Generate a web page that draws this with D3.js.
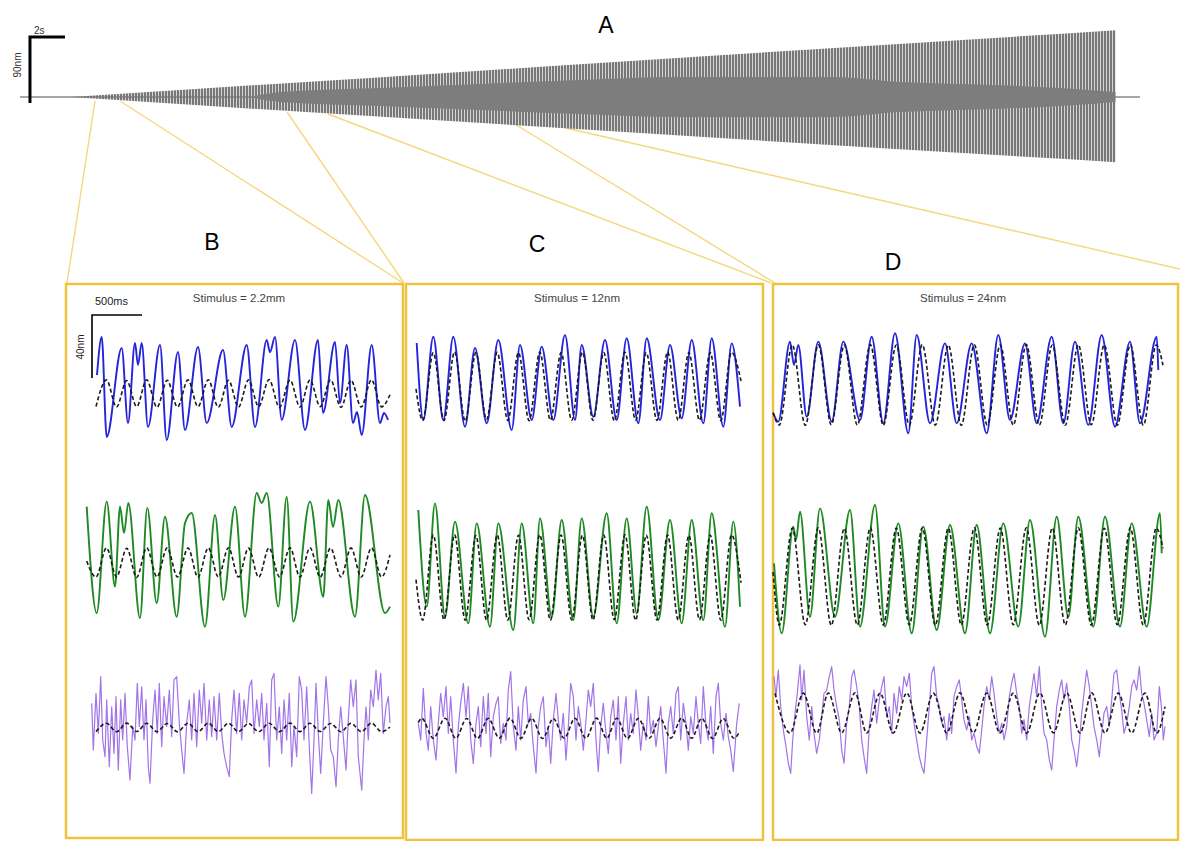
<!DOCTYPE html>
<html><head><meta charset="utf-8">
<script src="https://cdn.jsdelivr.net/npm/d3@7"></script>
<style>body{margin:0;background:#fff}svg{display:block}</style>
</head><body><svg id="c" width="1180" height="841"></svg>
<script>
// ---------- Panel A: envelope of the chirp stimulus (time in s, displacement in nm)
const envTime  = [2.9, 10, 20, 30, 40, 50, 60, 62.6];
const envUpper = [0, 11, 26, 41.5, 57, 72, 87, 91];
const envLower = [0, -11, -26, -41, -56, -71, -85, -89];
const bandTime = [13.1, 14.9, 20.6, 26.3, 32, 37.7, 46.3, 50.3, 56, 59.4, 62.6];
const bandHalf = [0, 6.8, 12.3, 17.7, 23.2, 27.3, 27.3, 20.5, 16, 12.3, 6.8];

// ---------- Panel texts
const panelLetters = ["B", "C", "D"];
const stimulusLabels = ["Stimulus = 2.2mm", "Stimulus = 12nm", "Stimulus = 24nm"];

// ---------- Panel B traces  [time ms, displacement nm]
const bBlue = [[110,9.5],[157,33.7],[207,-29.8],[357,26.7],[420,-21],[490,29.8],[520,15.9],[557,29.8],[620,-23.5],[740,28.6],[807,-31.8],[920,24.1],[990,-25.4],[1120,27.3],[1207,-21],[1370,25.4],[1457,-23.5],[1607,28.6],[1690,-23.5],[1807,31.8],[1840,24],[1890,33.7],[1957,-19],[2090,31.8],[2190,-25.4],[2320,31.8],[2370,-14.6],[2490,30.5],[2540,-8.3],[2607,28.6],[2670,-21],[2710,-14],[2757,-28.6],[2857,28.6],[2940,-21],[2980,-14.6],[3020,-19]];
const bGreen = [[7,32.6],[107,-35],[207,35.8],[290,-18.2],[340,32.6],[380,15.9],[423,34.9],[540,-38.1],[613,31.8],[707,-28.6],[790,26.2],[907,-37.3],[990,22.2],[1057,28.6],[1190,-43.6],[1290,27.3],[1373,-26.7],[1490,32.6],[1590,-37.3],[1707,41.3],[1757,34.9],[1807,41.3],[1923,-30.9],[2007,38.9],[2073,-40.4],[2240,35.8],[2373,-24.6],[2423,36.8],[2470,19.7],[2523,36.8],[2690,-37.3],[2790,40],[2990,-35],[3040,-30.9]];
const bPurple = [[57,15.7],[73,-14],[100,22],[123,-3.4],[147,32.6],[167,-7.6],[190,-18.2],[207,17.8],[233,-24.6],[257,13.5],[280,-16.1],[300,19.9],[323,-26.7],[347,17.8],[367,-7.6],[390,22],[413,-11.9],[440,-33],[467,1],[490,-7.6],[513,28.4],[533,1],[557,26.2],[580,-7.6],[600,17.8],[623,-24.6],[640,-35.1],[667,5.3],[690,24.1],[713,-3.4],[733,28.4],[757,-11.9],[780,19.9],[807,1],[833,24.1],[857,-5.5],[880,30.5],[907,32.6],[933,3.2],[957,-14],[980,-28.8],[1007,3.2],[1033,17.8],[1057,-7.6],[1080,22],[1107,-11.9],[1133,24.1],[1157,3.2],[1180,28.4],[1207,-7.6],[1233,17.8],[1257,-5.5],[1280,19.9],[1307,-7.6],[1333,22],[1357,-3.4],[1380,-16.1],[1407,-24.6],[1433,-30.9],[1457,5.3],[1480,24.1],[1507,-3.4],[1533,22],[1557,-7.6],[1580,17.8],[1607,3.2],[1633,26.2],[1657,30.5],[1680,-3.4],[1707,17.8],[1733,1],[1757,22],[1780,-7.6],[1807,15.7],[1833,-24.6],[1857,30.5],[1880,34.7],[1907,-7.6],[1933,13.5],[1957,-16.1],[1980,17.8],[2007,-7.6],[2033,22],[2057,-24.6],[2080,1],[2107,-18.2],[2133,32.6],[2157,24.1],[2180,-7.6],[2207,26.2],[2233,-11.9],[2257,-41.5],[2280,-7.6],[2300,28.4],[2323,-3.4],[2347,-28.8],[2373,3.2],[2400,32.6],[2423,13.5],[2447,-14],[2473,-18.2],[2500,-37.3],[2523,-7.6],[2547,13.5],[2573,-5.5],[2600,-26.7],[2623,5.3],[2647,30.5],[2673,13.5],[2700,30.5],[2723,-18.2],[2757,-39.4],[2780,-7.6],[2800,13.5],[2823,-7.6],[2847,24.1],[2873,13.5],[2900,36.8],[2923,17.8],[2947,34.7],[2973,-3.4],[3000,13.5],[3023,19.9],[3040,3.2]];
const bModelT = [7,100,205,305,407,507,607,710,812,915,1020,1120,1223,1323,1425,1525,1625,1727,1830,1935,2040,2140,2240,2342,2445,2550,2650,2752,2855,2955,3040];
const bBlueModel = [null,-10.5,6.4,-10.8,6.0,-10.5,6.5,-11.0,6.2,-10.8,6.4,-10.6,6.5,-11.0,6.2,-10.8,6.4,-10.5,6.6,-11.0,6.3,-10.8,6.4,-10.6,6.5,-11.0,6.2,-10.8,6.4,-10.7,-3];
const bGreenModel = [-2,-12.1,6.4,-12,6.2,-12.3,6.5,-12,6.4,-12.1,6.3,-12.2,6.4,-12,6.5,-12.1,6.3,-12.2,6.4,-12,6.4,-12.1,6.5,-12.2,6.3,-12,6.4,-12.1,6.4,-12,2];
const bPurpleModel = [null,-2.3,3.0,-2.4,3.1,-2.2,3.0,-2.3,2.9,-2.4,3.0,-2.3,3.1,-2.2,3.0,-2.3,2.9,-2.4,3.0,-2.3,3.1,-2.3,3.0,-2.2,2.9,-2.4,3.0,-2.3,3.1,-2.3,0.5];

// ---------- Panel C traces
const cBlue = [[7,24.1],[73,-24.8],[173,28.1],[273,-24.8],[373,28.1],[490,-29],[590,21],[707,-26.9],[823,26],[957,-31.1],[1040,22.9],[1157,-24.8],[1257,21.8],[1373,-24.8],[1490,29.2],[1590,-24.8],[1657,22.9],[1773,-22.7],[1890,26],[2007,-24.8],[2107,27.1],[2223,-26.9],[2307,27.1],[2440,-24.8],[2540,22.9],[2657,-23.7],[2757,26],[2873,-26.9],[2957,27.1],[3073,-29],[3157,23.9],[3240,-16.3]];
const cGreen = [[23,36.2],[107,-25.2],[190,40.4],[290,-31.6],[390,28.8],[523,-35.8],[607,27.7],[740,-37.9],[823,27.7],[973,-40],[1057,27.7],[1173,-35.8],[1240,30.9],[1357,-31.6],[1457,29.8],[1573,-33.7],[1657,30.9],[1773,-31.6],[1907,34.1],[2007,-35.8],[2107,30.9],[2207,-29.4],[2307,38.3],[2423,-33.7],[2540,29.8],[2657,-35.8],[2757,29.8],[2873,-33.7],[2957,34.1],[3090,-37.9],[3173,28.8],[3240,-25.2]];
const cPurple = [[23,3.6],[47,-7],[73,25.8],[100,-2.8],[123,-13.4],[147,14.2],[173,-7],[200,-19.7],[223,3.6],[247,22.6],[273,7.8],[300,26.9],[323,-2.8],[347,20.5],[373,-7],[400,-28],[423,1.5],[447,16.3],[473,29],[500,7.8],[523,26.9],[547,-7],[573,-21.8],[600,3.6],[623,14.2],[647,-11.2],[673,20.5],[700,-2.8],[723,22.6],[747,-17.6],[773,7.8],[800,16.3],[823,20.5],[847,-9.1],[873,3.6],[900,-7],[923,24.8],[947,36.4],[973,1.5],[1000,-13.4],[1023,14.2],[1047,-7],[1073,18.4],[1100,26.9],[1123,3.6],[1147,9.9],[1173,-11.2],[1200,-28],[1223,1.5],[1247,14.2],[1273,20.5],[1300,-11.2],[1323,1.5],[1347,-21.8],[1373,5.7],[1400,22.6],[1423,5.7],[1447,-7],[1473,9.9],[1500,-19.7],[1523,1.5],[1547,29],[1573,20.5],[1600,-7],[1623,14.2],[1647,3.6],[1673,-13.4],[1700,5.7],[1723,24.8],[1747,14.2],[1773,29],[1800,-7],[1823,-27],[1847,1.5],[1873,16.3],[1900,-2.8],[1923,-15.5],[1947,7.8],[1973,18.4],[2000,-7],[2023,20.5],[2047,-21.8],[2073,3.6],[2100,20.5],[2123,-7],[2147,9.9],[2173,-2.8],[2200,24.8],[2223,7.8],[2247,-13.4],[2273,3.6],[2300,-7],[2323,20.5],[2347,-2.8],[2373,5.7],[2400,-11.2],[2423,1.5],[2447,14.2],[2473,-7],[2500,-28],[2523,3.6],[2547,14.2],[2573,-2.8],[2600,22.6],[2623,26.9],[2647,-7],[2673,16.3],[2700,3.6],[2723,-13.4],[2747,7.8],[2773,-2.8],[2800,20.5],[2823,3.6],[2847,-9.1],[2873,26.9],[2900,1.5],[2923,-7],[2947,14.2],[2973,-15.5],[3000,20.5],[3023,29],[3047,3.6],[3073,-7],[3100,9.9],[3123,-4.9],[3147,-13.4],[3173,-27],[3207,3.6],[3233,16.3]];
const cModelT = [0,67,173,280,386,492,599,705,812,918,1025,1131,1238,1344,1451,1557,1664,1770,1877,1983,2090,2196,2303,2409,2516,2622,2729,2835,2942,3048,3155,3250];
const cBlueModel = [-5,-25,18,-25,18.5,-25.5,18,-24.5,18.2,-25,18,-25.2,18.4,-24.8,18,-25,18.3,-25,18,-25.3,18.2,-24.8,18,-25,18.4,-25,18.1,-24.9,18,-25.2,18.2,0];
const cGreenModel = [-8,-33.7,20.3,-33.5,20.5,-33.8,20,-33.6,20.3,-33.7,20.2,-33.5,20.4,-33.8,20.3,-33.6,20.1,-33.7,20.3,-33.5,20.4,-33.8,20.2,-33.6,20.3,-33.7,20.1,-33.5,20.3,-33.8,20.4,-10];
const cPurpleModelT = [23,57,173,290,398,507,615,723,832,940,1048,1157,1265,1373,1482,1590,1698,1807,1907,2007,2115,2223,2332,2440,2548,2657,2757,2857,2965,3073,3180,3233];
const cPurpleModel = [4,6.8,-5.9,6.8,-5.9,6.7,-6,6.8,-5.8,6.9,-5.9,6.8,-6,6.7,-5.9,6.8,-5.8,6.9,-5.9,6.8,-6,6.7,-5.9,6.8,-5.8,6.9,-5.9,6.8,-6,6.7,-5.9,-2];

// ---------- Panel D traces
const dBlue = [[3,-20.5],[53,-25.8],[170,25],[210,10.2],[253,22.9],[337,-22.7],[453,25],[587,-25.8],[703,25],[870,-24.8],[987,28.1],[1103,-26.9],[1220,30.3],[1353,-33.2],[1437,29.2],[1570,-26.9],[1720,23.9],[1837,-26.9],[1987,23.9],[2137,-33.2],[2253,29.2],[2370,-24.8],[2520,23.9],[2637,-26.9],[2787,28.1],[2903,-26.9],[3020,25],[3153,-27.9],[3287,29.2],[3420,-29],[3570,25],[3670,-26.9],[3837,28.1],[3853,7]];
const dGreen = [[10,5.5],[87,-38.9],[203,28.8],[230,20.3],[270,38.3],[370,-28.4],[470,40.4],[620,-28.4],[770,39.4],[870,-34.7],[1020,42.5],[1120,-34.7],[1253,30.9],[1387,-38.9],[1503,28.8],[1637,-36.8],[1770,29.8],[1920,-38.9],[2037,29.8],[2170,-38.9],[2303,30.9],[2453,-34.7],[2570,33],[2720,-41.1],[2837,35.1],[2953,-28.4],[3053,35.1],[3203,-34.7],[3320,35.1],[3470,-34.7],[3587,30.9],[3737,-34.7],[3870,37.3],[3887,11.9]];
const dPurple = [[10,23.1],[30,10.4],[53,27.3],[77,4.1],[103,-10.8],[130,-21.3],[153,-31.9],[177,-38.3],[197,-17.1],[220,-0.2],[243,12.5],[270,30.5],[287,8.3],[310,27.3],[337,-2.3],[363,-17.1],[387,4.1],[410,-12.9],[437,-25.6],[463,-17.1],[487,-2.3],[510,12.5],[537,14.6],[563,23.1],[587,29.5],[610,14.6],[637,4.1],[663,-4.4],[687,-23.5],[710,-31.9],[737,-6.5],[763,4.1],[787,23.1],[810,27.3],[837,16.8],[863,4.1],[887,-17.1],[910,-27.7],[937,-38.3],[963,-8.6],[987,4.1],[1010,14.6],[1037,-6.5],[1063,8.3],[1087,16.8],[1110,23.1],[1137,-2.3],[1163,4.1],[1187,-12.9],[1210,12.5],[1237,-0.2],[1263,16.8],[1287,8.3],[1310,23.1],[1337,16.8],[1363,25.2],[1387,4.1],[1410,-6.5],[1437,-17.1],[1463,-27.7],[1487,-34],[1510,-38.3],[1537,-17.1],[1563,4.1],[1587,25.2],[1610,29.5],[1637,10.4],[1663,4.1],[1687,-6.5],[1710,-2.3],[1737,-17.1],[1763,-0.2],[1787,-12.9],[1810,10.4],[1837,16.8],[1863,21],[1887,8.3],[1910,-4.4],[1937,-10.8],[1963,-2.3],[1987,-17.1],[2010,-12.9],[2037,-21.3],[2063,-25.6],[2087,-10.8],[2110,4.1],[2137,16.8],[2163,8.3],[2187,23.1],[2210,12.5],[2237,-2.3],[2263,-12.9],[2287,-6.5],[2310,-17.1],[2337,-8.6],[2363,10.4],[2387,18.9],[2410,25.2],[2437,12.5],[2463,4.1],[2487,-12.9],[2510,-4.4],[2537,-17.1],[2563,4.1],[2587,14.6],[2610,25.2],[2637,10.4],[2663,29.5],[2687,4.1],[2710,-12.9],[2737,-17.1],[2763,-29.8],[2787,-36.2],[2810,-17.1],[2837,4.1],[2863,14.6],[2887,21],[2910,8.3],[2937,18.9],[2963,4.1],[2987,-17.1],[3010,-23.5],[3037,-34],[3063,-19.2],[3087,-0.2],[3110,12.5],[3137,27.3],[3163,16.8],[3187,4.1],[3210,-8.6],[3237,-17.1],[3263,-27.7],[3287,-12.9],[3310,-0.2],[3337,4.1],[3363,-8.6],[3387,8.3],[3410,25.2],[3437,27.3],[3463,12.5],[3487,2],[3510,-12.9],[3537,-6.5],[3563,4.1],[3587,16.8],[3610,21],[3637,14.6],[3663,29.5],[3687,12.5],[3710,6.2],[3737,-4.4],[3763,-15],[3787,-0.2],[3810,-17.1],[3837,-12.9],[3863,16.8],[3887,2],[3903,-17.1],[3920,-8.6]];
const dModelT = [0,63,193,323,453,583,713,843,973,1103,1233,1363,1493,1623,1753,1883,2013,2143,2273,2403,2533,2663,2793,2923,3053,3183,3313,3443,3573,3703,3833,3900];
const dBlueModel = [-20,-28,22.9,-28.2,23,-27.8,22.8,-28,23.1,-28.1,22.9,-27.9,23,-28,22.8,-28.2,23,-27.9,22.9,-28,23.1,-28,22.9,-28.1,23,-27.8,22.9,-28,23,-28.1,22.9,10];
const dGreenModel = [0,-33.7,27.9,-33.5,28,-33.8,27.7,-33.6,28,-33.7,27.9,-33.5,28.1,-33.8,27.8,-33.6,28,-33.7,27.9,-33.5,28,-33.8,27.9,-33.6,28,-33.7,27.8,-33.5,28,-33.8,27.9,15];
const dPurpleModelT = [20,170,303,437,553,687,820,937,1070,1203,1337,1470,1603,1737,1870,2003,2137,2270,2403,2537,2670,2803,2937,3070,3187,3320,3453,3587,3720,3837,3920];
const dPurpleModel = [12.5,-12.7,12.6,-12.8,12.7,-12.6,12.8,-12.7,12.6,-12.7,12.7,-12.8,12.6,-12.7,12.8,-12.6,12.7,-12.7,12.6,-12.8,12.7,-12.6,12.7,-12.7,12.8,-12.7,12.6,-12.7,12.7,-12.8,4];

// ================= drawing =================
const svg = d3.select("#c");
const FONT = "'Liberation Sans', Arial, sans-serif";
const YELLOW = "#f5d77c", BORDER = "#f1c23e";
const BLUE = "#2424dc", GREEN = "#1f8a24", PURPLE = "#a274e8";
const zip = (t, v) => t.map((d, i) => [d, v[i]]);

// --- Panel A
const xA = d3.scaleLinear().domain([0, 64]).range([20, 1140]);
const yA = d3.scaleLinear().domain([-90, 90]).range([163, 31]);
const defs = svg.append("defs");
defs.append("pattern").attr("id", "stripes").attr("patternUnits", "userSpaceOnUse")
  .attr("width", 3).attr("height", 6)
  .append("rect").attr("width", 2.3).attr("height", 6).attr("fill", "#777777");

// connector lines (drawn first, behind)
const connectors = [
  [[95, 101], [67, 283]], [[120, 101], [403, 283]],
  [[287, 112], [404, 283]], [[328, 114], [771, 283]],
  [[513, 123], [775, 283]], [[566, 128], [1180, 269]]
];
svg.append("g").selectAll("line").data(connectors).join("line")
  .attr("x1", d => d[0][0]).attr("y1", d => d[0][1])
  .attr("x2", d => d[1][0]).attr("y2", d => d[1][1])
  .attr("stroke", YELLOW).attr("stroke-width", 1.4);

svg.append("line").attr("x1", xA(0)).attr("x2", xA(64)).attr("y1", yA(0)).attr("y2", yA(0))
  .attr("stroke", "#8a8a8a").attr("stroke-width", 1.5);
const envData = envTime.map((t, i) => ({t, hi: envUpper[i], lo: envLower[i]}));
svg.append("path").datum(envData)
  .attr("d", d3.area().x(d => xA(d.t)).y0(d => yA(d.lo)).y1(d => yA(d.hi)))
  .attr("fill", "url(#stripes)");
const bandData = bandTime.map((t, i) => ({t, h: bandHalf[i]}));
svg.append("path").datum(bandData)
  .attr("d", d3.area().curve(d3.curveMonotoneX).x(d => xA(d.t)).y0(d => yA(-d.h)).y1(d => yA(d.h)))
  .attr("fill", "#7d7d7d");

// scale bar A
svg.append("path").attr("d", `M${xA(0.57)},${yA(-8.2)}V${yA(81.8)}H${xA(2.57)}`)
  .attr("fill", "none").attr("stroke", "#000").attr("stroke-width", 3);
svg.append("text").attr("x", 34).attr("y", 34).text("2s")
  .attr("font-family", FONT).attr("font-size", 10).attr("fill", "#333");
svg.append("text").attr("transform", "translate(21,65) rotate(-90)").attr("text-anchor", "middle")
  .text("90nm").attr("font-family", FONT).attr("font-size", 10).attr("fill", "#333");
svg.append("text").attr("x", 606).attr("y", 33).attr("text-anchor", "middle").text("A")
  .attr("font-family", FONT).attr("font-size", 23).attr("fill", "#000");

// --- Panels B, C, D
const panels = [
  {box: [66, 284, 403, 838], letter: [212, 250], stim: 239, xr: [86, 390], dom: 3040, centers: [390, 558, 728],
   traces: [bBlue, bGreen, bPurple],
   models: [zip(bModelT, bBlueModel), zip(bModelT, bGreenModel), zip(bModelT, bPurpleModel)]},
  {box: [406, 284, 763, 840], letter: [537, 252], stim: 577, xr: [416, 741], dom: 3250, centers: [381, 567, 729],
   traces: [cBlue, cGreen, cPurple],
   models: [zip(cModelT, cBlueModel), zip(cModelT, cGreenModel), zip(cPurpleModelT, cPurpleModel)]},
  {box: [773, 284, 1178, 840], letter: [893, 270], stim: 963, xr: [773, 1168], dom: 3950, centers: [381, 572, 713],
   traces: [dBlue, dGreen, dPurple],
   models: [zip(dModelT, dBlueModel), zip(dModelT, dGreenModel), zip(dPurpleModelT, dPurpleModel)]}
];
const colors = [BLUE, GREEN, PURPLE];

panels.forEach((p, pi) => {
  const g = svg.append("g");
  g.append("rect").attr("x", p.box[0]).attr("y", p.box[1])
    .attr("width", p.box[2] - p.box[0]).attr("height", p.box[3] - p.box[1])
    .attr("fill", "none").attr("stroke", BORDER).attr("stroke-width", 2.5);
  svg.append("text").attr("x", p.letter[0]).attr("y", p.letter[1]).attr("text-anchor", "middle")
    .text(panelLetters[pi]).attr("font-family", FONT).attr("font-size", 23).attr("fill", "#000");
  g.append("text").attr("x", p.stim).attr("y", 302).attr("text-anchor", "middle")
    .text(stimulusLabels[pi]).attr("font-family", FONT).attr("font-size", 11.5).attr("fill", "#444");
  const x = d3.scaleLinear().domain([0, p.dom]).range(p.xr);
  p.centers.forEach((c, ti) => {
    const y = d3.scaleLinear().domain([-40, 40]).range([c + 63, c - 63]);
    const isP = ti === 2;
    const lineR = d3.line().x(d => x(d[0])).y(d => y(d[1]))
      .curve(isP ? d3.curveLinear : d3.curveMonotoneX);
    g.append("path").datum(p.traces[ti]).attr("d", lineR).attr("fill", "none")
      .attr("stroke", colors[ti]).attr("stroke-width", isP ? 1.2 : 1.9).attr("stroke-linejoin", "round");
    const lineM = d3.line().defined(d => d[1] != null).x(d => x(d[0])).y(d => y(d[1]))
      .curve(d3.curveMonotoneX);
    g.append("path").datum(p.models[ti]).attr("d", lineM).attr("fill", "none")
      .attr("stroke", "#1a1a1a").attr("stroke-width", 1.6).attr("stroke-dasharray", "4,2.5");
  });
  if (pi === 0) {
    // scale bar 500 ms / 40 nm
    const yb = d3.scaleLinear().domain([-40, 40]).range([378, 315]);
    const x0 = 92;
    g.append("path").attr("d", `M${x0},${yb(-40)}V${yb(40)}H${x0 + (x(500) - x(0))}`)
      .attr("fill", "none").attr("stroke", "#000").attr("stroke-width", 1.6);
    g.append("text").attr("x", 95).attr("y", 305).text("500ms")
      .attr("font-family", FONT).attr("font-size", 11).attr("fill", "#222");
    g.append("text").attr("transform", "translate(84,347) rotate(-90)").attr("text-anchor", "middle")
      .text("40nm").attr("font-family", FONT).attr("font-size", 10).attr("fill", "#222");
  }
});
</script></body></html>
